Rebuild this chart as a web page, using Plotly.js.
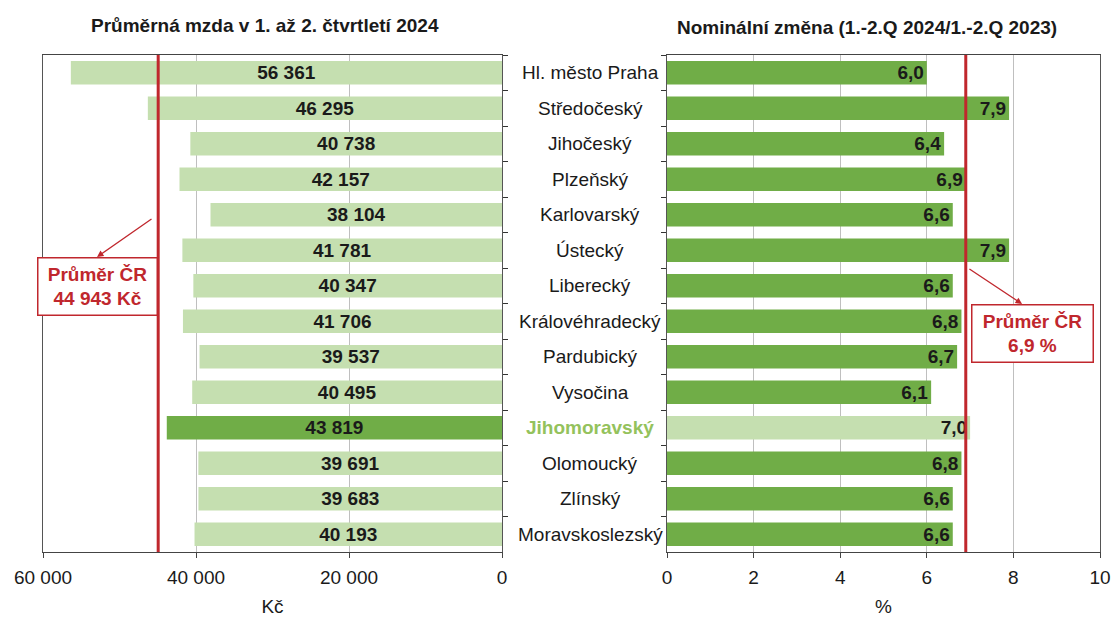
<!DOCTYPE html>
<html><head><meta charset="utf-8">
<script src="https://cdn.plot.ly/plotly-3.0.1.min.js"></script>
<style>html,body{margin:0;padding:0;background:#fff}</style>
</head><body>
<div id="chart" style="width:1112px;height:617px"></div>
<script>
const regions = ["Hl. město Praha","Středočeský","Jihočeský","Plzeňský","Karlovarský","Ústecký","Liberecký","Královéhradecký","Pardubický","Vysočina","Jihomoravský","Olomoucký","Zlínský","Moravskoslezský"];
const wages = [56361,46295,40738,42157,38104,41781,40347,41706,39537,40495,43819,39691,39683,40193];
const changes = [6.0,7.9,6.4,6.9,6.6,7.9,6.6,6.8,6.7,6.1,7.0,6.8,6.6,6.6];
const avgWage = 44943;
const avgChange = 6.9;
const highlight = "Jihomoravský";
const leftTitle = "Průměrná mzda v 1. až 2. čtvrtletí 2024";
const rightTitle = "Nominální změna (1.-2.Q 2024/1.-2.Q 2023)";
const leftAxisTitle = "Kč";
const rightAxisTitle = "%";
const avgWageLabel = "Průměr ČR<br>44 943 Kč";
const avgChangeLabel = "Průměr ČR<br>6,9 %";

const LIGHT = "#c5dfb0", DARK = "#70ad47", RED = "#c0272d";
const FONT = "Liberation Sans, Arial, sans-serif";
const FS = 19;

const leftColors = regions.map(r => r === highlight ? DARK : LIGHT);
const rightColors = regions.map(r => r === highlight ? LIGHT : DARK);

const traces = [
  {type:'bar', orientation:'h', x:wages, y:regions, xaxis:'x', yaxis:'y',
   marker:{color:leftColors}, texttemplate:'%{x:,.0f}', textposition:'inside', constraintext:'none',
   insidetextanchor:'middle', textfont:{family:FONT, size:FS, color:'#1a1a1a', weight:'bold'},
   hoverinfo:'skip', showlegend:false},
  {type:'bar', orientation:'h', x:changes, y:regions, xaxis:'x2', yaxis:'y2',
   marker:{color:rightColors}, texttemplate:'%{x:.1f}', textposition:'inside', constraintext:'none',
   insidetextanchor:'end', textfont:{family:FONT, size:FS, color:'#1a1a1a', weight:'bold'},
   hoverinfo:'skip', showlegend:false}
];

const yTop = 1 - 55/617, yBot = 1 - 552/617;
const catAxis = {type:'category', categoryorder:'array', categoryarray:regions, autorange:'reversed',
  domain:[yBot, yTop], showgrid:false, showticklabels:false, ticks:'outside', tickson:'boundaries',
  ticklen:5, tickcolor:'#333', showline:true, linecolor:'#555', mirror:true, zeroline:false, fixedrange:true};

const layout = {
  width:1112, height:617, margin:{l:0,r:0,t:0,b:0}, paper_bgcolor:'#fff', plot_bgcolor:'#fff',
  separators:', ', bargap:0.34, font:{family:FONT, size:FS, color:'#1a1a1a'},
  xaxis:{domain:[43/1112, 502/1112], range:[60000,0], dtick:20000, tickformat:',.0f',
    showgrid:true, gridcolor:'#bfbfbf', gridwidth:1, showline:true, linecolor:'#444', mirror:true,
    ticks:'outside', ticklen:5, tickcolor:'#444', zeroline:false, anchor:'y', ticklabelstandoff:3,
    tickfont:{family:FONT, size:FS, color:'#1a1a1a'},
    title:{text:leftAxisTitle, font:{family:FONT, size:FS}, standoff:16}},
  yaxis:Object.assign({}, catAxis, {anchor:'x', side:'right'}),
  xaxis2:{domain:[667/1112, 1100/1112], range:[0,10], dtick:2,
    showgrid:true, gridcolor:'#bfbfbf', gridwidth:1, showline:true, linecolor:'#444', mirror:true,
    ticks:'outside', ticklen:5, tickcolor:'#444', zeroline:false, anchor:'y2', ticklabelstandoff:3,
    tickfont:{family:FONT, size:FS, color:'#1a1a1a'},
    title:{text:rightAxisTitle, font:{family:FONT, size:FS}, standoff:16}},
  yaxis2:Object.assign({}, catAxis, {anchor:'x2', side:'left'}),
  shapes:[
    {type:'line', xref:'x', yref:'paper', x0:avgWage, x1:avgWage, y0:yBot, y1:yTop, line:{color:RED, width:3}},
    {type:'line', xref:'x2', yref:'paper', x0:avgChange, x1:avgChange, y0:yBot, y1:yTop, line:{color:RED, width:3}}
  ],
  annotations:[
    {text:'<b>'+leftTitle+'</b>', xref:'paper', yref:'paper', x:265/1112, y:1-25/617, showarrow:false,
     font:{family:FONT, size:FS, color:'#1a1a1a'}, xanchor:'center', yanchor:'middle'},
    {text:'<b>'+rightTitle+'</b>', xref:'paper', yref:'paper', x:867/1112, y:1-28/617, showarrow:false,
     font:{family:FONT, size:FS, color:'#1a1a1a'}, xanchor:'center', yanchor:'middle'},
    {text:'<b>'+avgWageLabel+'</b>', xref:'paper', yref:'paper', x:97/1112, y:1-287/617, showarrow:false,
     font:{family:FONT, size:19, color:RED}, bordercolor:RED, borderwidth:1.5, borderpad:3, bgcolor:'#fff',
     width:112, height:50, xanchor:'center', yanchor:'middle'},
    {text:'', xref:'x', yref:'paper', x:52941, y:1-257/617, axref:'x', ayref:'paper', ax:45621, ay:1-218/617,
     showarrow:true, arrowhead:2, arrowsize:1, arrowwidth:1.3, arrowcolor:RED},
    {text:'<b>'+avgChangeLabel+'</b>', xref:'paper', yref:'paper', x:1032/1112, y:1-333/617, showarrow:false,
     font:{family:FONT, size:19, color:RED}, bordercolor:RED, borderwidth:1.5, borderpad:3, bgcolor:'#fff',
     width:114, height:50, xanchor:'center', yanchor:'middle'},
    {text:'', xref:'x2', yref:'paper', x:8.2, y:1-304/617, axref:'x2', ayref:'paper', ax:avgChange+0.05, ay:1-268/617,
     showarrow:true, arrowhead:2, arrowsize:1, arrowwidth:1.3, arrowcolor:RED}
  ].concat(regions.map(r => ({text:r, xref:'paper', yref:'y2', x:590/1112, y:r, showarrow:false,
     xanchor:'center', yanchor:'middle',
     font:{family:FONT, size:FS, color: r === highlight ? '#94c25c' : '#1a1a1a', weight: r === highlight ? 'bold' : 'normal'}})))
};

Plotly.newPlot('chart', traces, layout, {displayModeBar:false, staticPlot:true});
</script>
</body></html>
